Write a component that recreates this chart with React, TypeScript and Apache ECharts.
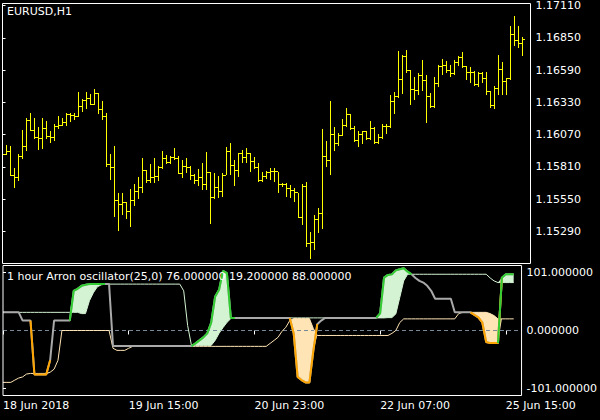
import React, { useEffect, useRef } from 'react';
import * as echarts from 'echarts';

// ---- Price bars (EURUSD, H1), bar index 0..130 ----
const OPEN = [
  1.15920, 1.15912, 1.15930, 1.15743, 1.15727, 1.15892, 1.15976, 1.16184, 1.16104, 1.16048,
  1.16040, 1.16120, 1.16053, 1.16048, 1.16136, 1.16144, 1.16168, 1.16233, 1.16225, 1.16217,
  1.16299, 1.16345, 1.16361, 1.16313, 1.16401, 1.16273, 1.16217, 1.15831, 1.15804, 1.15537,
  1.15510, 1.15526, 1.15446, 1.15542, 1.15614, 1.15647, 1.15783, 1.15703, 1.15727, 1.15735,
  1.15807, 1.15879, 1.15847, 1.15887, 1.15879, 1.15759, 1.15815, 1.15807, 1.15743, 1.15703,
  1.15727, 1.15671, 1.15767, 1.15566, 1.15647, 1.15614, 1.15743, 1.15936, 1.15823, 1.15783,
  1.15920, 1.15887, 1.15920, 1.15855, 1.15807, 1.15703, 1.15735, 1.15767, 1.15775, 1.15769,
  1.15671, 1.15671, 1.15639, 1.15622, 1.15603, 1.15403, 1.15655, 1.15189, 1.15197, 1.15382,
  1.15430, 1.15895, 1.15863, 1.16072, 1.16000, 1.16066, 1.16147, 1.16233, 1.16120, 1.16026,
  1.16072, 1.16093, 1.16040, 1.16120, 1.16010, 1.16050, 1.16136, 1.16136, 1.16334, 1.16374,
  1.16514, 1.16700, 1.16586, 1.16433, 1.16425, 1.16548, 1.16506, 1.16377, 1.16297, 1.16481,
  1.16620, 1.16628, 1.16586, 1.16560, 1.16647, 1.16695, 1.16620, 1.16572, 1.16572, 1.16473,
  1.16562, 1.16518, 1.16420, 1.16305, 1.16438, 1.16594, 1.16500, 1.16518, 1.16875, 1.16826,
  1.16802,
];
const HIGH = [
  1.15950, 1.15986, 1.15978, 1.15804, 1.15912, 1.16107, 1.16205, 1.16241, 1.16200, 1.16131,
  1.16200, 1.16176, 1.16099, 1.16157, 1.16217, 1.16200, 1.16241, 1.16241, 1.16241, 1.16409,
  1.16353, 1.16409, 1.16393, 1.16441, 1.16401, 1.16337, 1.16241, 1.15912, 1.15976, 1.15598,
  1.15598, 1.15526, 1.15633, 1.15671, 1.15727, 1.15879, 1.15783, 1.15831, 1.15879, 1.15815,
  1.15936, 1.15903, 1.15895, 1.15960, 1.15895, 1.15866, 1.15882, 1.15815, 1.15751, 1.15791,
  1.15842, 1.15930, 1.15767, 1.15761, 1.15735, 1.15761, 1.15968, 1.16000, 1.15866, 1.15922,
  1.15946, 1.15960, 1.15924, 1.15892, 1.15842, 1.15769, 1.15775, 1.15802, 1.15802, 1.15769,
  1.15681, 1.15681, 1.15663, 1.15639, 1.15603, 1.15671, 1.15684, 1.15288, 1.15424, 1.15478,
  1.16112, 1.16016, 1.16339, 1.16131, 1.16082, 1.16195, 1.16283, 1.16233, 1.16139, 1.16099,
  1.16099, 1.16099, 1.16179, 1.16131, 1.16077, 1.16152, 1.16152, 1.16388, 1.16414, 1.16741,
  1.16714, 1.16754, 1.16594, 1.16532, 1.16567, 1.16668, 1.16548, 1.16404, 1.16532, 1.16628,
  1.16676, 1.16660, 1.16634, 1.16674, 1.16706, 1.16733, 1.16620, 1.16612, 1.16580, 1.16572,
  1.16572, 1.16572, 1.16420, 1.16460, 1.16708, 1.16652, 1.16526, 1.16941, 1.17022, 1.16941,
  1.16853,
];
const LOW = [
  1.15890, 1.15912, 1.15743, 1.15649, 1.15703, 1.15884, 1.15944, 1.16104, 1.16040, 1.15952,
  1.15960, 1.16045, 1.16013, 1.16024, 1.16120, 1.16144, 1.16144, 1.16176, 1.16192, 1.16217,
  1.16257, 1.16281, 1.16313, 1.16313, 1.16241, 1.16192, 1.15815, 1.15711, 1.15414, 1.15301,
  1.15430, 1.15398, 1.15334, 1.15502, 1.15558, 1.15606, 1.15687, 1.15687, 1.15687, 1.15703,
  1.15799, 1.15839, 1.15839, 1.15871, 1.15759, 1.15727, 1.15767, 1.15711, 1.15679, 1.15663,
  1.15631, 1.15631, 1.15358, 1.15558, 1.15563, 1.15571, 1.15751, 1.15751, 1.15663, 1.15735,
  1.15850, 1.15850, 1.15775, 1.15799, 1.15695, 1.15695, 1.15719, 1.15711, 1.15697, 1.15611,
  1.15655, 1.15571, 1.15563, 1.15531, 1.15403, 1.15350, 1.15173, 1.15077, 1.15149, 1.15285,
  1.15318, 1.15815, 1.15751, 1.15948, 1.15984, 1.16066, 1.16139, 1.16115, 1.16018, 1.15978,
  1.16005, 1.16032, 1.16034, 1.16005, 1.16005, 1.16045, 1.16085, 1.16133, 1.16245, 1.16374,
  1.16406, 1.16575, 1.16318, 1.16353, 1.16398, 1.16430, 1.16173, 1.16294, 1.16294, 1.16465,
  1.16554, 1.16572, 1.16538, 1.16558, 1.16634, 1.16612, 1.16518, 1.16492, 1.16473, 1.16460,
  1.16497, 1.16393, 1.16294, 1.16285, 1.16393, 1.16393, 1.16393, 1.16521, 1.16794, 1.16775,
  1.16714,
];
const CLOSE = [
  1.15912, 1.15930, 1.15743, 1.15727, 1.15892, 1.15976, 1.16184, 1.16104, 1.16048, 1.16040,
  1.16120, 1.16053, 1.16048, 1.16136, 1.16144, 1.16168, 1.16233, 1.16225, 1.16217, 1.16299,
  1.16345, 1.16361, 1.16313, 1.16401, 1.16273, 1.16217, 1.15831, 1.15804, 1.15537, 1.15510,
  1.15526, 1.15446, 1.15542, 1.15614, 1.15647, 1.15783, 1.15703, 1.15727, 1.15735, 1.15807,
  1.15879, 1.15847, 1.15887, 1.15879, 1.15759, 1.15815, 1.15807, 1.15743, 1.15703, 1.15727,
  1.15671, 1.15767, 1.15566, 1.15647, 1.15614, 1.15743, 1.15936, 1.15823, 1.15783, 1.15920,
  1.15887, 1.15920, 1.15855, 1.15807, 1.15703, 1.15735, 1.15767, 1.15775, 1.15769, 1.15671,
  1.15671, 1.15639, 1.15622, 1.15603, 1.15403, 1.15655, 1.15189, 1.15197, 1.15382, 1.15430,
  1.15895, 1.15863, 1.16072, 1.16000, 1.16066, 1.16147, 1.16233, 1.16120, 1.16026, 1.16072,
  1.16093, 1.16040, 1.16120, 1.16010, 1.16050, 1.16136, 1.16136, 1.16334, 1.16374, 1.16514,
  1.16700, 1.16586, 1.16433, 1.16425, 1.16548, 1.16506, 1.16377, 1.16297, 1.16481, 1.16620,
  1.16628, 1.16586, 1.16560, 1.16647, 1.16695, 1.16620, 1.16572, 1.16572, 1.16473, 1.16562,
  1.16518, 1.16420, 1.16305, 1.16438, 1.16594, 1.16500, 1.16518, 1.16875, 1.16826, 1.16802,
  1.16835,
];

// ---- Aroon oscillator panel ----
const OSC = [
  31.7, 31.7, 31.7, 31.7, 31.7, 17.3, 17.3, 17.3, -76.7, -76.7,
  -76.7, -76.7, -52, 17.3, 17.3, 17.3, 17.3, 17.3, 69.3, 72.8,
  78, 79.7, 81, 81, 81, 81, 81, 81, -27.2, -27.2,
  -27.2, -27.2, -27.2, -27.2, -27.2, -27.2, -27.2, -27.2, -27.2, -27.2,
  -27.2, -27.2, -27.2, -27.2, -27.2, -27.2, -27.2, -27.2, -27.2, -22.5,
  -17.3, -12, -5, 13.9, 59, 71, 104, 100, 22, 22,
  22, 22, 22, 22, 22, 22, 22, 22, 22, 22,
  22, 22, 22, 22, -5, -81, -86.6, -90.6, -90.6, -35,
  11, 17.3, 22, 22, 22, 22, 22, 22, 22, 22,
  22, 22, 22, 22, 22, 22, 30, 92.3, 97, 98,
  105, 107, 108.6, 102.7, 98, 91.8, 86.6, 83.7, 78, 69.3,
  55.4, 55.4, 55.4, 55.4, 55.4, 31.7, 31.7, 31.7, 31.7, 31.7,
  27.2, 23, 14.4, -20, -22, -22, -22, 92.3, 98.2, 98.2,
  98.2,
];
const UPPER = [
  31.7, 31.7, 31.7, 31.7, 31.7, 31.7, 31.7, 31.7, 31.7, 31.7,
  31.7, 31.7, 31.7, 31.7, 31.7, 31.7, 31.7, 31.7, 31.7, 31.7,
  29.5, 29.5, 52, 65.8, 76.2, 79.7, 81, 81, 81, 81,
  81, 81, 81, 81, 81, 81, 81, 81, 81, 81,
  81, 81, 81, 81, 81, 81, 69.3, 8.7, -27.2, -26,
  -26, -26, -26, -26, -17.3, -5, 5, 14, 20.8, 22,
  22, 22, 22, 22, 22, 22, 22, 22, 22, 22,
  22, 22, 22, 22, 22, 22, 22, 22, 22, 22,
  22, 22, 22, 22, 22, 22, 22, 22, 22, 22,
  22, 22, 22, 22, 22, 22, 22, 22, 22.5, 22.5,
  29, 57.7, 86.6, 98.2, 98.2, 98.2, 98.2, 98.2, 98.2, 98.2,
  98.2, 98.2, 98.2, 98.2, 98.2, 98.2, 98.2, 98.2, 98.2, 98.2,
  98.2, 98.2, 98.2, 98.2, 91.8, 86.6, 83.7, 83.7, 83.7, 83.7,
  83.7,
];
const LOWER = [
  -90.6, -90.6, -90.6, -86.6, -83, -81, -76, -75, -75, -75,
  -75, -75, -72.8, -67.6, -52, 0, 0, 0, 0, 0,
  0, 0, 0, 0, 0, 0, 0, 0, -31, -34.7,
  -34.7, -34.7, -31, -27.7, -27.7, -27.7, -27.7, -27.7, -27.7, -27.7,
  -27.7, -27.7, -27.7, -27.7, -27.7, -27.7, -27.7, -27.7, -27.7, -27.7,
  -27.7, -27.7, -27.7, -27.7, -27.7, -27.7, -27.7, -27.7, -27.7, -27.7,
  -27.7, -27.7, -27.7, -27.7, -27.7, -27.7, -27.7, -27.7, -22.5, -17.3,
  -12, -1.7, 5.7, 17.3, 20.8, 20.8, 20.8, 20.8, 20.8, 3.5,
  -8.7, -8.7, -8.7, -8.7, -8.7, -8.7, -8.7, -8.7, -8.7, -8.7,
  -8.7, -8.7, -8.7, -8.7, -8.7, -8.7, -8.7, -8.7, -8.7, -5,
  0, 13.9, 20.3, 20.3, 20.3, 20.3, 20.3, 20.3, 20.3, 20.3,
  20.3, 20.3, 20.3, 20.3, 20.3, 20.3, 29.5, 31.7, 31.7, 31.7,
  31.7, 31.7, 31.7, 31.7, 29.5, 26, 20.3, 20.3, 20.3, 20.3,
  20.3,
];

// ---- Axis ticks / labels ----
const TIME_TICK_BARS = [0, 32, 64, 96, 128];
const TIME_LABELS = ['18 Jun 2018', '19 Jun 15:00', '20 Jun 23:00', '22 Jun 07:00', '25 Jun 15:00'];
const PRICE_TICKS = [1.1529, 1.1555, 1.1581, 1.1607, 1.1633, 1.1659, 1.1685, 1.1711];
const OSC_TICKS = [-101, 0, 101];
const PRICE_MIN = 1.15031;
const PRICE_MAX = 1.17126;
const OSC_MIN = -113.5;
const OSC_MAX = 113.5;
const BAR_SLOTS = 132;

const TITLE_MAIN = 'EURUSD,H1';
const TITLE_IND = '1 hour Arron oscillator(25,0) 76.000000 19.200000 88.000000';

const FONT = 'DejaVu Sans';
const YELLOW = '#ffff00';
const GRAY = '#a9a9a9';
const GREEN = '#32cd32';
const ORANGE = '#ffa500';
const PALE_GREEN = '#d3f3d3';
const PALE_ORANGE = '#ffe4b5';
const LEVEL = '#778899';

export default function App() {
  const ref = useRef<HTMLDivElement>(null);

  useEffect(() => {
    const chart = echarts.init(ref.current!, null, { renderer: 'svg' });
    const n = OSC.length;
    const idx = OSC.map((_, i) => i);

    // one band per fill: [k, edge, extreme]
    const greenBand = idx.map((k) => [k, UPPER[k], Math.max(OSC[k], UPPER[k])]);
    const orangeBand = idx.map((k) => [k, LOWER[k], Math.min(OSC[k], LOWER[k])]);

    const isUp = (k: number) => k >= 0 && k < n && OSC[k] > UPPER[k];
    const isDn = (k: number) => k >= 0 && k < n && OSC[k] < LOWER[k];
    const greenLine = idx.map((k) => [k, isUp(k) || isUp(k - 1) || isUp(k + 1) ? OSC[k] : '-']);
    const orangeLine = idx.map((k) => [k, isDn(k) || isDn(k - 1) || isDn(k + 1) ? OSC[k] : '-']);

    // Whole band drawn as a single polygon (edge forward, extreme backward)
    const bandRender = (band: number[][], color: string) => (params: any, api: any) => {
      if (params.dataIndex !== 0) return null;
      const fwd = band.map((d) => api.coord([d[0], d[1]]));
      const back = band.slice().reverse().map((d) => api.coord([d[0], d[2]]));
      return {
        type: 'polygon',
        shape: { points: fwd.concat(back) },
        style: { fill: color },
      };
    };

    const crisp = (v: number) => Math.round(v - 0.5) + 0.5;
    const tickStyle = { stroke: YELLOW, lineWidth: 1 };

    const option: any = {
      animation: false,
      backgroundColor: '#000',
      grid: [
        { left: 2.5, top: 2.5, width: 528, height: 261, show: true, borderColor: '#fff', borderWidth: 1, backgroundColor: 'transparent', z: 10 },
        { left: 2.5, top: 265.5, width: 528, height: 130, show: true, borderColor: '#fff', borderWidth: 1, backgroundColor: 'transparent', z: 10 },
      ],
      xAxis: [
        { type: 'value', gridIndex: 0, min: 0, max: BAR_SLOTS, show: false },
        {
          type: 'value', gridIndex: 1, min: 0, max: BAR_SLOTS, position: 'bottom',
          axisLine: { show: false },
          splitLine: { show: false },
          axisTick: { show: true, customValues: TIME_TICK_BARS, length: 4, lineStyle: { color: '#fff', width: 1 } },
          axisLabel: {
            customValues: TIME_TICK_BARS,
            formatter: (v: number) => TIME_LABELS[TIME_TICK_BARS.indexOf(v)] ?? '',
            color: '#fff', fontSize: 11, fontFamily: FONT, align: 'left', margin: 4,
          },
        },
      ],
      yAxis: [
        {
          type: 'value', gridIndex: 0, position: 'right', min: PRICE_MIN, max: PRICE_MAX, scale: true,
          axisLine: { show: false },
          splitLine: { show: false },
          axisTick: { show: true, customValues: PRICE_TICKS, length: 3, lineStyle: { color: '#fff' } },
          axisLabel: {
            customValues: PRICE_TICKS,
            formatter: (v: number) => v.toFixed(5),
            color: '#fff', fontSize: 11, fontFamily: FONT, margin: 5,
          },
        },
        {
          type: 'value', gridIndex: 1, position: 'right', min: OSC_MIN, max: OSC_MAX,
          axisLine: { show: false },
          splitLine: { show: false },
          axisTick: { show: true, customValues: OSC_TICKS, length: 3, lineStyle: { color: '#fff' } },
          axisLabel: {
            customValues: OSC_TICKS,
            formatter: (v: number) => v.toFixed(6),
            color: '#fff', fontSize: 11, fontFamily: FONT, margin: 5,
          },
        },
      ],
      graphic: [
        { type: 'text', left: 7, top: 6, style: { text: TITLE_MAIN, fill: '#fff', font: `11px "${FONT}"` }, z: 20 },
        { type: 'text', left: 7, top: 271, style: { text: TITLE_IND, fill: '#fff', font: `11px "${FONT}"` }, z: 20 },
      ],
      series: [
        {
          type: 'custom', xAxisIndex: 0, yAxisIndex: 0, clip: true, z: 2,
          data: OPEN.map((o, i) => [i, o, HIGH[i], LOW[i], CLOSE[i]]),
          encode: { x: 0, y: [1, 2, 3, 4] },
          renderItem: (_p: any, api: any) => {
            const k = api.value(0);
            const o = api.coord([k, api.value(1)]);
            const h = api.coord([k, api.value(2)]);
            const l = api.coord([k, api.value(3)]);
            const c = api.coord([k, api.value(4)]);
            const x = h[0];
            const yo = crisp(o[1]);
            const yc = crisp(c[1]);
            return {
              type: 'group',
              children: [
                { type: 'line', shape: { x1: x, y1: Math.round(h[1]), x2: x, y2: Math.round(l[1]) + 1 }, style: tickStyle },
                { type: 'line', shape: { x1: x - 2.5, y1: yo, x2: x - 0.5, y2: yo }, style: tickStyle },
                { type: 'line', shape: { x1: x + 0.5, y1: yc, x2: x + 2.5, y2: yc }, style: tickStyle },
              ],
            };
          },
        },
        {
          type: 'custom', xAxisIndex: 1, yAxisIndex: 1, clip: true, z: 1,
          data: greenBand, encode: { x: 0, y: [1, 2] },
          renderItem: bandRender(greenBand, PALE_GREEN),
        },
        {
          type: 'custom', xAxisIndex: 1, yAxisIndex: 1, clip: true, z: 1,
          data: orangeBand, encode: { x: 0, y: [1, 2] },
          renderItem: bandRender(orangeBand, PALE_ORANGE),
        },
        {
          type: 'line', xAxisIndex: 1, yAxisIndex: 1, z: 2, silent: true,
          data: [[0, 0], [BAR_SLOTS, 0]], showSymbol: false,
          lineStyle: { color: LEVEL, width: 1, type: [4, 3] },
        },
        {
          type: 'line', xAxisIndex: 1, yAxisIndex: 1, z: 3, showSymbol: false,
          data: idx.map((k) => [k, UPPER[k]]),
          lineStyle: { color: PALE_GREEN, width: 1 },
        },
        {
          type: 'line', xAxisIndex: 1, yAxisIndex: 1, z: 3, showSymbol: false,
          data: idx.map((k) => [k, LOWER[k]]),
          lineStyle: { color: PALE_ORANGE, width: 1 },
        },
        {
          type: 'line', xAxisIndex: 1, yAxisIndex: 1, z: 4, showSymbol: false,
          data: idx.map((k) => [k, OSC[k]]),
          lineStyle: { color: GRAY, width: 2 },
        },
        {
          type: 'line', xAxisIndex: 1, yAxisIndex: 1, z: 5, showSymbol: false, connectNulls: false,
          data: orangeLine,
          lineStyle: { color: ORANGE, width: 2 },
        },
        {
          type: 'line', xAxisIndex: 1, yAxisIndex: 1, z: 6, showSymbol: false, connectNulls: false,
          data: greenLine,
          lineStyle: { color: GREEN, width: 2 },
        },
      ],
    };

    chart.setOption(option);
    return () => chart.dispose();
  }, []);

  return (
    <div
      ref={ref}
      style={{ position: 'absolute', left: 0, top: 0, width: 600, height: 420, background: '#000' }}
    />
  );
}
